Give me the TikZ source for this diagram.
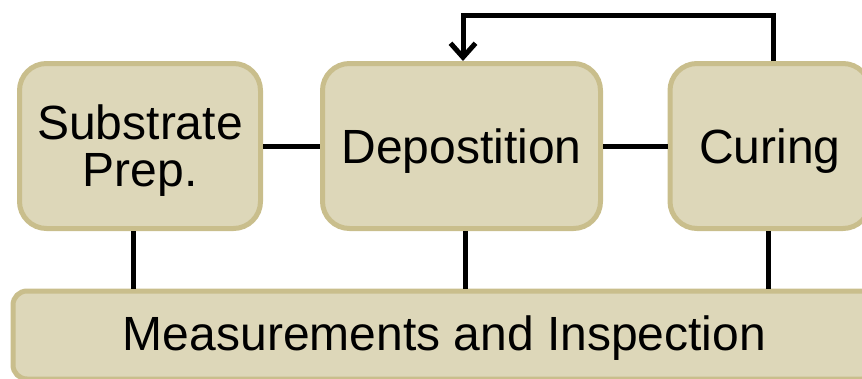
\documentclass[tikz,border=0pt]{standalone}
\usepackage{fontspec}
\setmainfont{Liberation Sans}
\usetikzlibrary{arrows.meta,calc}
\definecolor{boxfill}{RGB}{221,215,185}
\definecolor{boxline}{RGB}{201,190,140}
\begin{document}
\begin{tikzpicture}[x=1pt,y=-1pt,
  stage/.style={draw=boxline, fill=boxfill, line width=5pt,
    rounded corners=27pt, inner sep=0pt, align=center,
    font=\fontsize{48}{47}\selectfont, text depth=0pt},
  link/.style={line width=5pt, draw=black},
  ]
\useasboundingbox (0,0) rectangle (862,378);
\clip (0,0) rectangle (862,378);

% process stages
\node[stage, minimum width=241pt, minimum height=165pt] (sub) at (140,146) {Substrate\\Prep.};
\node[stage, minimum width=278pt, minimum height=165pt] (dep) at (461.5,146) {Depostition};
\node[stage, minimum width=200pt, minimum height=165pt] (cur) at (770,146) {Curing};
\node[stage, rounded corners=14pt, text height=30pt, minimum width=863pt, minimum height=88pt] (meas) at (444.5,335) {Measurements and Inspection};

% chain between stages
\draw[link] (sub.east) -- (dep.west);
\draw[link] (dep.east) -- (cur.west);

% feedback from curing back to deposition
\coordinate (top) at (600,15);
\draw[link, -{Straight Barb[length=14pt,width=25pt]}]
  ([xshift=3pt]cur.north) |- (top) -| ([xshift=1.5pt]dep.north);

% every stage reports to measurement
\draw[link] ([xshift=-7pt]sub.south) -- ([xshift=-7pt]sub.south |- meas.north);
\draw[link] ([xshift=3.5pt]dep.south) -- ([xshift=3.5pt]dep.south |- meas.north);
\draw[link] ([xshift=-2pt]cur.south) -- ([xshift=-2pt]cur.south |- meas.north);
\end{tikzpicture}
\end{document}
